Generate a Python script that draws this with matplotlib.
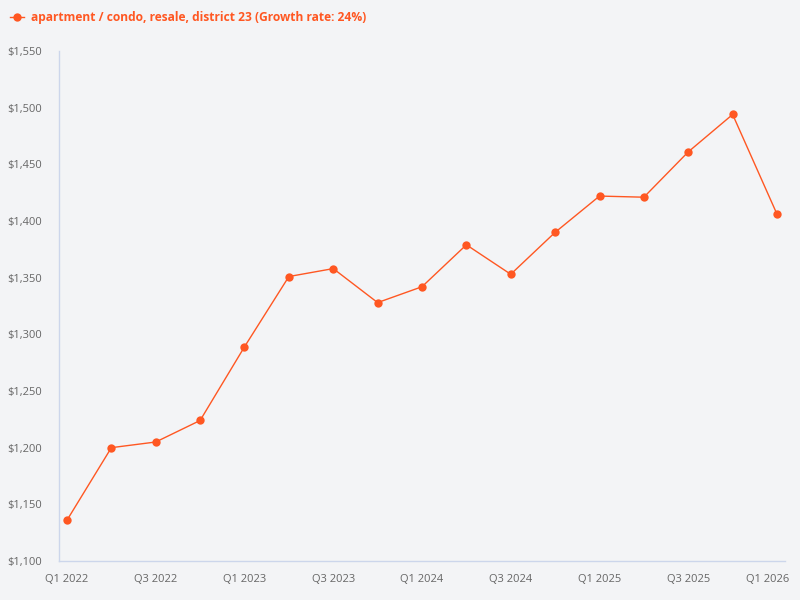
import matplotlib
matplotlib.use("Agg")
import matplotlib.pyplot as plt
import matplotlib.transforms as mtransforms
from matplotlib.ticker import FuncFormatter

plt.rcParams['font.family'] = ['Open Sans', 'DejaVu Sans']

# Quarterly values
quarters = ["Q1 2022", "Q2 2022", "Q3 2022", "Q4 2022",
            "Q1 2023", "Q2 2023", "Q3 2023", "Q4 2023",
            "Q1 2024", "Q2 2024", "Q3 2024", "Q4 2024",
            "Q1 2025", "Q2 2025", "Q3 2025", "Q4 2025",
            "Q1 2026"]
prices = [1136, 1200, 1205, 1224,
          1289, 1351, 1358, 1328,
          1342, 1379, 1353, 1390,
          1422, 1421, 1461, 1494,
          1406]
series_name = "apartment / condo, resale, district 23 (Growth rate: 24%)"
yticks = [1100, 1150, 1200, 1250, 1300, 1350, 1400, 1450, 1500, 1550]

bg = "#f3f4f6"
orange = "#ff5722"
axis_col = "#ccd6eb"
text_col = "#666666"

fig = plt.figure(figsize=(8, 6), dpi=100, facecolor=bg)
ax = fig.add_axes([59 / 800, 1 - 561 / 600, (785 - 59) / 800, (561 - 51) / 600])
ax.set_facecolor(bg)

x = list(range(len(quarters)))
ax.plot(x, prices, color=orange, linewidth=1, marker="o", markersize=6,
        markeredgewidth=0, zorder=3)

ax.set_xlim(-0.18, len(quarters) - 1 + 0.18)
ax.set_ylim(yticks[0], yticks[-1])
ax.set_yticks(yticks)
ax.yaxis.set_major_formatter(FuncFormatter(lambda v, p: "${:,.0f}".format(v)))
ax.set_xticks(x[::2])
ax.set_xticklabels(quarters[::2])

for s in ["top", "right"]:
    ax.spines[s].set_visible(False)
for s in ["left", "bottom"]:
    ax.spines[s].set_color(axis_col)
    ax.spines[s].set_linewidth(1)

ax.tick_params(axis="both", length=0, labelsize=8, colors=text_col)
ax.tick_params(axis="y", pad=12)
ax.tick_params(axis="x", pad=9)

# last label is pushed inside the figure
last = ax.get_xticklabels()[-1]
last.set_transform(last.get_transform() + mtransforms.ScaledTranslation(-9 / 100, 0, fig.dpi_scale_trans))

# legend at top left
fig.lines.append(plt.Line2D([10 / 800, 24 / 800], [1 - 17 / 600, 1 - 17 / 600],
                            transform=fig.transFigure, color=orange, linewidth=1))
fig.lines.append(plt.Line2D([17 / 800], [1 - 17 / 600], transform=fig.transFigure,
                            color=orange, marker="o", markersize=6, markeredgewidth=0))
fig.text(31 / 800, 1 - 17 / 600, series_name, color=orange, fontsize=8.65,
         fontweight="bold", va="center", ha="left")

fig.savefig("out.png", dpi=100, facecolor=bg)
